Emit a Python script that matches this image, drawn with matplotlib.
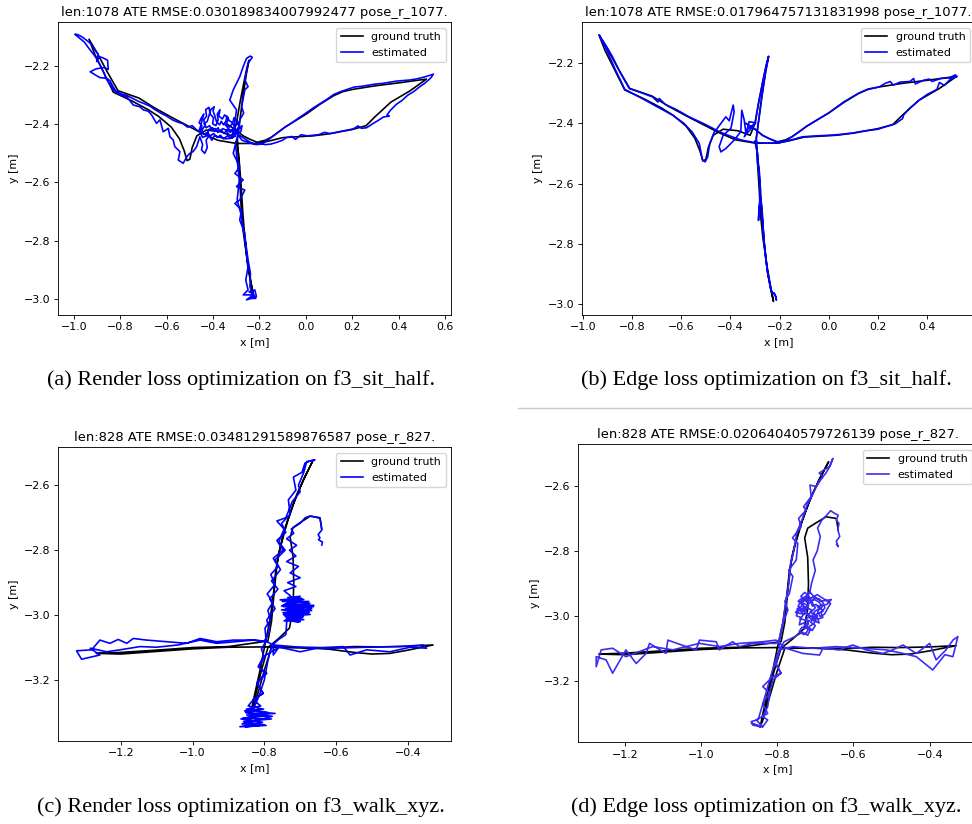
import numpy as np
import matplotlib
matplotlib.use('Agg')
import matplotlib.pyplot as plt
from matplotlib.lines import Line2D

# ground truth, f3_sit_half (same for a and b)
gt_sit = [
    (-0.337, -2.401), (-0.300, -2.420), (-0.270, -2.440), (-0.240, -2.452), (-0.210, -2.462),
    (-0.175, -2.455), (-0.150, -2.445), (-0.120, -2.428), (-0.090, -2.410), (-0.045, -2.388),
    (0.000, -2.366), (0.060, -2.332), (0.120, -2.302), (0.160, -2.288), (0.205, -2.280),
    (0.300, -2.268), (0.400, -2.258), (0.520, -2.245),
    (0.450, -2.285), (0.367, -2.324), (0.300, -2.373), (0.260, -2.405), (0.200, -2.418),
    (0.100, -2.433), (0.030, -2.440), (-0.100, -2.446), (-0.160, -2.458), (-0.210, -2.466),
    (-0.300, -2.466), (-0.380, -2.455), (-0.450, -2.430), (-0.570, -2.380), (-0.650, -2.345),
    (-0.720, -2.310), (-0.810, -2.285),
    (-0.860, -2.215), (-0.900, -2.155), (-0.935, -2.108),
    (-0.910, -2.160), (-0.870, -2.225), (-0.830, -2.290),
    (-0.750, -2.320), (-0.680, -2.350), (-0.635, -2.373), (-0.580, -2.410), (-0.545, -2.450),
    (-0.525, -2.490), (-0.512, -2.525), (-0.500, -2.520), (-0.490, -2.480), (-0.470, -2.440),
    (-0.430, -2.420), (-0.370, -2.425), (-0.320, -2.440),
    (-0.300, -2.400), (-0.285, -2.330), (-0.268, -2.260), (-0.255, -2.210), (-0.245, -2.180),
    (-0.257, -2.230), (-0.272, -2.310), (-0.285, -2.390), (-0.295, -2.450),
    (-0.290, -2.530), (-0.283, -2.620), (-0.278, -2.700), (-0.268, -2.780), (-0.252, -2.870),
    (-0.237, -2.940), (-0.225, -2.990),
    (-0.235, -2.955), (-0.250, -2.890), (-0.262, -2.800), (-0.272, -2.700), (-0.280, -2.600),
    (-0.290, -2.500), (-0.300, -2.460),
]

# (a) render loss estimate
est_render_sit = [
    (-0.352, -2.398), (-0.330, -2.418), (-0.305, -2.428), (-0.282, -2.440), (-0.262, -2.450),
    (-0.240, -2.462), (-0.215, -2.470), (-0.190, -2.468), (-0.165, -2.455), (-0.140, -2.440),
    (-0.115, -2.425), (-0.090, -2.410), (-0.060, -2.395), (-0.030, -2.378), (0.000, -2.362),
    (0.030, -2.345), (0.060, -2.330), (0.090, -2.315), (0.120, -2.298), (0.150, -2.288),
    (0.180, -2.280), (0.210, -2.272), (0.240, -2.270), (0.270, -2.266), (0.300, -2.262),
    (0.330, -2.260), (0.360, -2.256), (0.390, -2.252), (0.420, -2.250), (0.450, -2.248),
    (0.480, -2.244), (0.510, -2.238), (0.535, -2.232), (0.550, -2.228),
    (0.540, -2.240), (0.515, -2.258), (0.490, -2.272), (0.465, -2.288), (0.440, -2.300),
    (0.415, -2.318), (0.390, -2.332), (0.365, -2.352), (0.350, -2.368), (0.360, -2.372),
    (0.335, -2.375), (0.310, -2.388), (0.285, -2.400), (0.262, -2.412), (0.240, -2.414),
    (0.225, -2.406), (0.205, -2.416), (0.180, -2.420), (0.155, -2.424), (0.130, -2.428),
    (0.105, -2.432), (0.080, -2.428), (0.055, -2.436), (0.030, -2.438), (0.005, -2.440),
    (-0.020, -2.436), (-0.045, -2.452), (-0.060, -2.442), (-0.085, -2.446), (-0.100, -2.455),
    (-0.125, -2.462), (-0.150, -2.468), (-0.175, -2.470), (-0.200, -2.465), (-0.225, -2.468),
    (-0.250, -2.462),
    # centre blob
    (-0.275, -2.455), (-0.290, -2.440), (-0.300, -2.420), (-0.285, -2.405), (-0.295, -2.390),
    (-0.310, -2.378), (-0.315, -2.395), (-0.330, -2.388), (-0.340, -2.372), (-0.345, -2.390),
    (-0.355, -2.402), (-0.365, -2.390), (-0.372, -2.402), (-0.385, -2.392), (-0.392, -2.372),
    (-0.400, -2.355), (-0.395, -2.340), (-0.410, -2.350), (-0.418, -2.372), (-0.425, -2.390),
    (-0.438, -2.398), (-0.430, -2.412), (-0.415, -2.405), (-0.405, -2.420), (-0.390, -2.415),
    (-0.380, -2.428), (-0.365, -2.420), (-0.352, -2.432), (-0.340, -2.418), (-0.325, -2.428),
    (-0.312, -2.412), (-0.300, -2.425), (-0.305, -2.440), (-0.322, -2.448), (-0.338, -2.440),
    (-0.355, -2.450), (-0.368, -2.438), (-0.382, -2.445), (-0.398, -2.432), (-0.412, -2.440),
    (-0.425, -2.428), (-0.440, -2.435), (-0.448, -2.420),
    (-0.435, -2.405), (-0.440, -2.385), (-0.428, -2.372), (-0.432, -2.350), (-0.418, -2.342),
    (-0.412, -2.365), (-0.398, -2.378), (-0.402, -2.398), (-0.388, -2.405), (-0.378, -2.385),
    (-0.382, -2.365), (-0.370, -2.350), (-0.375, -2.372), (-0.360, -2.382), (-0.350, -2.368),
    (-0.335, -2.380), (-0.342, -2.400), (-0.328, -2.410), (-0.318, -2.398), (-0.305, -2.405),
    (-0.292, -2.398), (-0.285, -2.415), (-0.275, -2.405), (-0.280, -2.425), (-0.295, -2.432),
    (-0.310, -2.428), (-0.318, -2.442), (-0.332, -2.436), (-0.345, -2.420), (-0.358, -2.415),
    (-0.372, -2.425), (-0.378, -2.412), (-0.392, -2.425), (-0.402, -2.412), (-0.418, -2.418),
    (-0.428, -2.440), (-0.445, -2.445), (-0.455, -2.430), (-0.448, -2.405), (-0.460, -2.395),
    (-0.452, -2.380), (-0.440, -2.365), (-0.455, -2.410), (-0.462, -2.425),
    (-0.470, -2.420), (-0.490, -2.405), (-0.510, -2.410), (-0.530, -2.398), (-0.555, -2.392),
    (-0.575, -2.385), (-0.600, -2.372), (-0.625, -2.362), (-0.650, -2.350), (-0.672, -2.338),
    (-0.695, -2.330), (-0.720, -2.322), (-0.745, -2.312), (-0.770, -2.302), (-0.795, -2.296),
    (-0.820, -2.285),
    # left arm up to the tip and back
    (-0.832, -2.270), (-0.845, -2.250), (-0.860, -2.242), (-0.888, -2.240), (-0.930, -2.220),
    (-0.905, -2.210), (-0.870, -2.205), (-0.852, -2.212), (-0.855, -2.180), (-0.875, -2.172),
    (-0.890, -2.168), (-0.902, -2.185), (-0.895, -2.160), (-0.910, -2.145), (-0.925, -2.125),
    (-0.945, -2.112), (-0.965, -2.100), (-0.985, -2.092), (-0.996, -2.091),
    (-0.975, -2.105), (-0.955, -2.118), (-0.935, -2.140), (-0.915, -2.160), (-0.900, -2.178),
    (-0.885, -2.200), (-0.870, -2.225), (-0.860, -2.245), (-0.845, -2.262), (-0.830, -2.282),
    (-0.800, -2.300), (-0.773, -2.305),
    # lower left zigzag and dip
    (-0.744, -2.334), (-0.716, -2.340), (-0.700, -2.351), (-0.680, -2.355), (-0.665, -2.368),
    (-0.644, -2.397), (-0.629, -2.385), (-0.615, -2.426), (-0.593, -2.414), (-0.586, -2.443),
    (-0.572, -2.454), (-0.565, -2.477), (-0.543, -2.494), (-0.550, -2.523), (-0.529, -2.534),
    (-0.512, -2.510), (-0.500, -2.500), (-0.486, -2.494), (-0.471, -2.477), (-0.457, -2.443),
    (-0.445, -2.470), (-0.450, -2.488), (-0.436, -2.500), (-0.425, -2.480), (-0.430, -2.455),
    (-0.418, -2.440), (-0.405, -2.455), (-0.395, -2.440), (-0.370, -2.445), (-0.345, -2.450),
    (-0.320, -2.448), (-0.305, -2.440),
    # spike
    (-0.313, -2.431), (-0.299, -2.351), (-0.328, -2.317), (-0.313, -2.282), (-0.285, -2.237),
    (-0.270, -2.202), (-0.256, -2.174), (-0.240, -2.166), (-0.231, -2.170), (-0.249, -2.191),
    (-0.256, -2.220), (-0.263, -2.248), (-0.249, -2.271), (-0.263, -2.282), (-0.277, -2.340),
    (-0.268, -2.362), (-0.285, -2.385), (-0.292, -2.431),
    # vertical branch
    (-0.313, -2.500), (-0.285, -2.546), (-0.306, -2.569), (-0.270, -2.591), (-0.299, -2.614),
    (-0.263, -2.626), (-0.285, -2.660), (-0.306, -2.672), (-0.277, -2.694), (-0.285, -2.729),
    (-0.263, -2.775), (-0.256, -2.843), (-0.249, -2.889), (-0.259, -2.935), (-0.249, -2.969),
    (-0.270, -2.986), (-0.227, -2.986), (-0.256, -3.003), (-0.213, -2.992), (-0.220, -2.969),
    (-0.245, -2.975), (-0.225, -2.984), (-0.238, -2.998), (-0.216, -2.998), (-0.232, -2.978),
    (-0.241, -2.958), (-0.239, -2.912), (-0.249, -2.866), (-0.259, -2.809), (-0.270, -2.763),
    (-0.277, -2.717), (-0.296, -2.660), (-0.287, -2.591), (-0.296, -2.523), (-0.302, -2.477),
]

# (b) edge loss estimate
est_edge_sit = [
    (-0.337, -2.401), (-0.300, -2.420), (-0.270, -2.440), (-0.240, -2.452), (-0.215, -2.460),
    (-0.200, -2.464), (-0.175, -2.458), (-0.150, -2.445), (-0.120, -2.428), (-0.090, -2.410),
    (-0.045, -2.388), (0.000, -2.366), (0.060, -2.330), (0.123, -2.300), (0.160, -2.287),
    (0.205, -2.280), (0.230, -2.268), (0.250, -2.262), (0.262, -2.274), (0.290, -2.264),
    (0.330, -2.262), (0.345, -2.252), (0.352, -2.270), (0.385, -2.258), (0.410, -2.254),
    (0.420, -2.262), (0.455, -2.252), (0.490, -2.250), (0.515, -2.240), (0.522, -2.246),
    (0.500, -2.250), (0.470, -2.275), (0.450, -2.265), (0.440, -2.288), (0.400, -2.305),
    (0.367, -2.324), (0.330, -2.350), (0.305, -2.372), (0.300, -2.385), (0.270, -2.402),
    (0.230, -2.412), (0.200, -2.420), (0.150, -2.425), (0.100, -2.432), (0.050, -2.437),
    (0.000, -2.440), (-0.050, -2.442), (-0.107, -2.445), (-0.150, -2.455), (-0.185, -2.462),
    (-0.210, -2.466),
    (-0.260, -2.466), (-0.310, -2.463), (-0.360, -2.455), (-0.410, -2.440), (-0.446, -2.428),
    (-0.500, -2.405), (-0.568, -2.379), (-0.620, -2.355), (-0.665, -2.338), (-0.690, -2.318),
    (-0.695, -2.330), (-0.717, -2.313), (-0.760, -2.300), (-0.812, -2.285),
    (-0.850, -2.230), (-0.880, -2.180), (-0.905, -2.145), (-0.934, -2.108), (-0.930, -2.115),
    (-0.905, -2.155), (-0.870, -2.220), (-0.830, -2.288),
    (-0.760, -2.318), (-0.700, -2.345), (-0.636, -2.373), (-0.590, -2.400), (-0.555, -2.430),
    (-0.527, -2.467), (-0.514, -2.522), (-0.503, -2.528), (-0.493, -2.512), (-0.484, -2.467),
    (-0.466, -2.429),
    (-0.459, -2.423), (-0.419, -2.379), (-0.405, -2.392), (-0.389, -2.340), (-0.385, -2.362),
    (-0.398, -2.417), (-0.430, -2.440), (-0.446, -2.478), (-0.439, -2.495), (-0.419, -2.484),
    (-0.385, -2.456), (-0.358, -2.428), (-0.354, -2.357), (-0.344, -2.390), (-0.337, -2.434),
    (-0.324, -2.395), (-0.297, -2.399), (-0.344, -2.445), (-0.330, -2.420),
    (-0.300, -2.400), (-0.285, -2.330), (-0.268, -2.260), (-0.255, -2.210), (-0.245, -2.178),
    (-0.257, -2.230), (-0.272, -2.310), (-0.285, -2.390), (-0.295, -2.450),
    (-0.290, -2.530), (-0.283, -2.555), (-0.278, -2.620), (-0.283, -2.680), (-0.286, -2.722),
    (-0.284, -2.680), (-0.276, -2.650), (-0.270, -2.700), (-0.265, -2.780), (-0.256, -2.853),
    (-0.245, -2.910), (-0.235, -2.950), (-0.229, -2.964), (-0.222, -2.962), (-0.215, -2.975),
    (-0.213, -2.986), (-0.218, -2.970), (-0.235, -2.955), (-0.250, -2.890), (-0.262, -2.800),
    (-0.272, -2.700), (-0.278, -2.640), (-0.285, -2.560), (-0.290, -2.500), (-0.300, -2.460),
]

# ground truth, f3_walk_xyz (same for c and d)
gt_walk = [
    (-0.845, -3.343), (-0.830, -3.260), (-0.812, -3.170), (-0.798, -3.090), (-0.785, -3.020),
    (-0.775, -2.940), (-0.768, -2.860), (-0.755, -2.790), (-0.735, -2.710), (-0.710, -2.630),
    (-0.685, -2.570), (-0.665, -2.525),
    (-0.690, -2.580), (-0.720, -2.660), (-0.745, -2.740), (-0.762, -2.820), (-0.772, -2.920),
    (-0.780, -3.020), (-0.790, -3.080),
    (-0.900, -3.097), (-1.000, -3.100), (-1.100, -3.108), (-1.200, -3.115), (-1.268, -3.118),
    (-1.200, -3.120), (-1.100, -3.112), (-1.000, -3.104), (-0.900, -3.099), (-0.800, -3.098),
    (-0.700, -3.100), (-0.600, -3.100), (-0.550, -3.097), (-0.480, -3.098), (-0.400, -3.096),
    (-0.330, -3.092),
    (-0.400, -3.108), (-0.450, -3.118), (-0.500, -3.120), (-0.550, -3.115), (-0.620, -3.105),
    (-0.700, -3.100), (-0.780, -3.100),
    (-0.800, -3.170), (-0.820, -3.250), (-0.840, -3.330),
    (-0.825, -3.250), (-0.808, -3.170), (-0.790, -3.100), (-0.760, -3.072), (-0.730, -3.040),
    (-0.720, -2.980), (-0.718, -2.900), (-0.720, -2.820), (-0.728, -2.760), (-0.720, -2.730),
    (-0.700, -2.715), (-0.672, -2.695), (-0.645, -2.700), (-0.640, -2.735),
]

# (c) render loss estimate
est_render_walk = [
    (-0.852, -3.345), (-0.800, -3.338), (-0.858, -3.328), (-0.780, -3.320), (-0.860, -3.318),
    (-0.790, -3.310), (-0.849, -3.308), (-0.770, -3.303), (-0.855, -3.295), (-0.802, -3.290),
    (-0.845, -3.280), (-0.830, -3.260), (-0.803, -3.241), (-0.821, -3.210), (-0.798, -3.179),
    (-0.816, -3.159), (-0.800, -3.130), (-0.808, -3.105), (-0.795, -3.080), (-0.798, -3.040),
    (-0.783, -3.015), (-0.790, -2.985), (-0.776, -2.960), (-0.792, -2.935), (-0.770, -2.905),
    (-0.782, -2.875), (-0.762, -2.850), (-0.775, -2.825), (-0.748, -2.800), (-0.765, -2.770),
    (-0.740, -2.745), (-0.752, -2.717), (-0.728, -2.690), (-0.733, -2.645), (-0.712, -2.615),
    (-0.719, -2.575), (-0.695, -2.560), (-0.687, -2.532), (-0.672, -2.525), (-0.659, -2.522),
    (-0.682, -2.527),
    (-0.690, -2.560), (-0.705, -2.600), (-0.700, -2.620), (-0.722, -2.650), (-0.740, -2.700),
    (-0.765, -2.710), (-0.745, -2.735), (-0.760, -2.775), (-0.742, -2.800), (-0.770, -2.830),
    (-0.755, -2.860), (-0.780, -2.895), (-0.762, -2.920), (-0.785, -2.950), (-0.770, -2.980),
    (-0.793, -3.015), (-0.785, -3.050), (-0.800, -3.080),
    (-0.830, -3.077), (-0.886, -3.077), (-0.933, -3.082), (-0.979, -3.072), (-1.016, -3.087),
    (-1.072, -3.082), (-1.128, -3.077), (-1.165, -3.072), (-1.183, -3.087), (-1.207, -3.075),
    (-1.230, -3.087), (-1.258, -3.077), (-1.281, -3.107), (-1.323, -3.110), (-1.309, -3.136),
    (-1.258, -3.123), (-1.285, -3.102), (-1.239, -3.113), (-1.202, -3.107), (-1.146, -3.097),
    (-1.100, -3.099), (-1.040, -3.092), (-0.979, -3.077), (-0.933, -3.087), (-0.880, -3.082),
    (-0.831, -3.077), (-0.793, -3.082),
    (-0.766, -3.097), (-0.700, -3.113), (-0.654, -3.102), (-0.580, -3.097), (-0.561, -3.123),
    (-0.515, -3.107), (-0.450, -3.113), (-0.394, -3.099), (-0.348, -3.102), (-0.357, -3.092),
    (-0.422, -3.097), (-0.515, -3.099), (-0.608, -3.102), (-0.700, -3.099), (-0.775, -3.092),
    (-0.775, -3.123), (-0.760, -3.100), (-0.803, -3.128), (-0.817, -3.159), (-0.793, -3.179),
    (-0.821, -3.210), (-0.803, -3.241), (-0.831, -3.261), (-0.810, -3.280), (-0.850, -3.290),
    (-0.790, -3.300), (-0.865, -3.320), (-0.805, -3.330), (-0.868, -3.344), (-0.795, -3.340),
    (-0.862, -3.335), (-0.778, -3.312), (-0.852, -3.300),
    (-0.835, -3.300), (-0.815, -3.250), (-0.800, -3.200), (-0.790, -3.140), (-0.780, -3.095),
    (-0.760, -3.075), (-0.740, -3.060),
    # cluster near (-0.71, -2.98)
    (-0.737, -3.010), (-0.700, -3.020), (-0.738, -3.010), (-0.691, -3.005), (-0.747, -2.997),
    (-0.677, -2.989), (-0.752, -2.984), (-0.663, -2.974), (-0.747, -2.974), (-0.673, -2.964),
    (-0.756, -2.953), (-0.696, -2.948), (-0.728, -2.964), (-0.668, -2.980), (-0.735, -2.990),
    (-0.685, -2.995),
    (-0.745, -3.018), (-0.690, -3.014), (-0.742, -3.005), (-0.672, -2.998), (-0.748, -2.992),
    (-0.668, -2.986), (-0.740, -2.980), (-0.662, -2.970), (-0.744, -2.968), (-0.676, -2.958),
    (-0.750, -2.958), (-0.690, -2.952), (-0.735, -2.946), (-0.700, -2.942), (-0.752, -2.972),
    (-0.680, -2.975), (-0.738, -2.985), (-0.675, -2.992), (-0.745, -3.000), (-0.695, -3.008),
    (-0.740, -3.015), (-0.705, -3.022),
    # up the right line to the hook
    (-0.728, -2.940), (-0.745, -2.925), (-0.712, -2.912), (-0.735, -2.900), (-0.700, -2.885),
    (-0.728, -2.870), (-0.705, -2.850), (-0.738, -2.835), (-0.712, -2.818), (-0.730, -2.800),
    (-0.710, -2.785), (-0.738, -2.765), (-0.718, -2.748), (-0.725, -2.735), (-0.700, -2.717),
    (-0.686, -2.700), (-0.673, -2.695), (-0.658, -2.698), (-0.645, -2.702), (-0.642, -2.720),
    (-0.640, -2.738), (-0.650, -2.752), (-0.645, -2.762), (-0.649, -2.768), (-0.638, -2.775),
    (-0.640, -2.784),
]

# (d) edge loss estimate
est_edge_walk = [
    (-0.846, -3.342), (-0.868, -3.331), (-0.838, -3.342), (-0.855, -3.321), (-0.825, -3.301),
    (-0.838, -3.270), (-0.820, -3.239), (-0.838, -3.218), (-0.812, -3.188), (-0.790, -3.177),
    (-0.805, -3.150), (-0.794, -3.105), (-0.794, -3.075), (-0.785, -3.023), (-0.772, -2.982),
    (-0.780, -2.955), (-0.768, -2.931), (-0.759, -2.879), (-0.770, -2.860), (-0.750, -2.828),
    (-0.746, -2.777), (-0.760, -2.760), (-0.737, -2.725), (-0.744, -2.700), (-0.724, -2.674),
    (-0.731, -2.664), (-0.711, -2.633), (-0.714, -2.597), (-0.698, -2.602), (-0.680, -2.571),
    (-0.690, -2.560), (-0.663, -2.540), (-0.654, -2.515),
    (-0.660, -2.535), (-0.672, -2.560), (-0.690, -2.585), (-0.705, -2.620), (-0.722, -2.660),
    (-0.735, -2.705), (-0.748, -2.740), (-0.755, -2.790), (-0.765, -2.840), (-0.770, -2.900),
    (-0.778, -2.960), (-0.785, -3.020), (-0.795, -3.075),
    (-0.803, -3.085), (-0.864, -3.085), (-0.899, -3.095), (-0.917, -3.080), (-0.952, -3.105),
    (-0.960, -3.080), (-1.004, -3.075), (-1.013, -3.105), (-1.039, -3.095), (-1.087, -3.075),
    (-1.092, -3.116), (-1.135, -3.085), (-1.144, -3.116), (-1.170, -3.147), (-1.197, -3.105),
    (-1.232, -3.177), (-1.249, -3.136), (-1.275, -3.126), (-1.275, -3.157), (-1.262, -3.105),
    (-1.232, -3.100), (-1.197, -3.126), (-1.127, -3.095), (-1.074, -3.105), (-1.004, -3.085),
    (-0.952, -3.095), (-0.899, -3.085), (-0.838, -3.080), (-0.803, -3.075),
    (-0.777, -3.100), (-0.733, -3.116), (-0.689, -3.121), (-0.680, -3.100), (-0.637, -3.105),
    (-0.602, -3.090), (-0.567, -3.105), (-0.523, -3.116), (-0.497, -3.105), (-0.470, -3.090),
    (-0.435, -3.116), (-0.400, -3.085), (-0.383, -3.136), (-0.357, -3.105), (-0.339, -3.075),
    (-0.326, -3.064), (-0.339, -3.126), (-0.360, -3.120), (-0.392, -3.167), (-0.435, -3.126),
    (-0.470, -3.116), (-0.514, -3.105), (-0.575, -3.100), (-0.645, -3.095), (-0.707, -3.100),
    (-0.759, -3.095), (-0.794, -3.105),
    (-0.803, -3.147), (-0.790, -3.177), (-0.812, -3.198), (-0.820, -3.239), (-0.825, -3.280),
    (-0.838, -3.311), (-0.825, -3.321), (-0.838, -3.342), (-0.864, -3.337), (-0.868, -3.326),
    (-0.850, -3.320),
    (-0.835, -3.260), (-0.818, -3.190), (-0.800, -3.120), (-0.782, -3.080), (-0.760, -3.068),
    (-0.740, -3.055),
    # cluster near (-0.72, -2.99)
    (-0.735, -3.050), (-0.720, -3.060), (-0.712, -3.040), (-0.728, -3.030), (-0.715, -3.015),
    (-0.740, -3.010), (-0.730, -2.995), (-0.752, -2.990), (-0.742, -2.975), (-0.725, -2.985),
    (-0.718, -2.968), (-0.735, -2.960), (-0.722, -2.945), (-0.708, -2.960), (-0.700, -2.975),
    (-0.712, -2.990), (-0.695, -3.000), (-0.705, -3.015), (-0.690, -3.022), (-0.698, -2.995),
    (-0.680, -2.985), (-0.692, -2.970), (-0.670, -2.965), (-0.658, -2.950), (-0.685, -2.955),
    (-0.705, -2.940), (-0.715, -2.925), (-0.725, -2.940), (-0.740, -2.950),
    (-0.745, -2.955), (-0.732, -2.968), (-0.748, -2.978), (-0.735, -2.988), (-0.722, -2.975),
    (-0.710, -2.982), (-0.718, -2.998), (-0.705, -3.005), (-0.712, -3.020), (-0.700, -3.030),
    (-0.708, -3.045), (-0.722, -3.040), (-0.730, -3.022), (-0.742, -3.028), (-0.738, -3.005),
    (-0.750, -3.000), (-0.745, -2.985), (-0.728, -2.978), (-0.715, -2.960), (-0.702, -2.950),
    (-0.690, -2.958), (-0.682, -2.972), (-0.694, -2.985), (-0.688, -3.002), (-0.676, -2.995),
    (-0.668, -2.978), (-0.660, -2.962), (-0.672, -2.952), (-0.695, -2.935), (-0.710, -2.945),
    (-0.726, -2.952), (-0.738, -2.940), (-0.728, -2.928),
    (-0.720, -2.935), (-0.712, -2.948), (-0.722, -2.958), (-0.730, -2.950), (-0.738, -2.962),
    (-0.728, -2.972), (-0.740, -2.982), (-0.732, -2.995), (-0.722, -2.990), (-0.715, -3.002),
    (-0.725, -3.010), (-0.718, -3.025), (-0.728, -3.040), (-0.735, -3.035), (-0.742, -3.048),
    (-0.730, -3.058), (-0.722, -3.050), (-0.715, -3.032), (-0.705, -3.025), (-0.698, -3.012),
    (-0.708, -2.998), (-0.700, -2.985), (-0.690, -2.978), (-0.698, -2.965), (-0.708, -2.970),
    (-0.712, -2.955), (-0.700, -2.945), (-0.690, -2.948), (-0.680, -2.960), (-0.675, -2.975),
    (-0.685, -2.992), (-0.680, -3.005), (-0.692, -3.010), (-0.700, -3.000), (-0.712, -3.010),
    (-0.720, -2.998), (-0.732, -2.985), (-0.745, -2.970), (-0.738, -2.955), (-0.725, -2.945),
    # up to the hook
    (-0.715, -2.930), (-0.710, -2.900), (-0.700, -2.860), (-0.706, -2.828), (-0.695, -2.800),
    (-0.687, -2.756), (-0.694, -2.730), (-0.683, -2.705), (-0.670, -2.690), (-0.660, -2.676),
    (-0.650, -2.684), (-0.640, -2.690), (-0.645, -2.705), (-0.638, -2.715), (-0.641, -2.735),
    (-0.636, -2.756), (-0.645, -2.770), (-0.640, -2.787), (-0.644, -2.780),
]

titles = [
    'len:1078 ATE RMSE:0.030189834007992477 pose_r_1077.',
    'len:1078 ATE RMSE:0.017964757131831998 pose_r_1077.',
    'len:828 ATE RMSE:0.03481291589876587 pose_r_827.',
    'len:828 ATE RMSE:0.02064040579726139 pose_r_827.',
]
captions = [
    '(a) Render loss optimization on f3_sit_half.',
    '(b) Edge loss optimization on f3_sit_half.',
    '(c) Render loss optimization on f3_walk_xyz.',
    '(d) Edge loss optimization on f3_walk_xyz.',
]

W, H = 972, 824
s = 0.79  # the panels were scaled down from default matplotlib size
plt.rcParams.update({
    'font.size': 10 * s,
    'axes.titlesize': 12 * s,
    'axes.linewidth': 0.8 * s,
    'xtick.major.size': 3.5 * s, 'ytick.major.size': 3.5 * s,
    'xtick.major.width': 0.8 * s, 'ytick.major.width': 0.8 * s,
    'xtick.major.pad': 3.5 * s, 'ytick.major.pad': 3.5 * s,
    'axes.titlepad': 6 * s, 'axes.labelpad': 4 * s,
    'legend.fontsize': 10 * s,
})

fig = plt.figure(figsize=(W / 100, H / 100), dpi=100)

def box(left, top, w, h):
    return [left / W, 1 - (top + h) / H, w / W, h / H]

# pixel boxes of the four axes
boxes = [box(57.7, 22.3, 393.3, 292.4), box(582, 22.3, 393.3, 292.4),
         box(57.7, 447.3, 393.3, 293.4), box(578.3, 444.3, 399, 297.7)]
xlims = [(-1.070, 0.626), (-1.004, 0.596), (-1.3755, -0.280), (-1.322, -0.275)]
ylims = [(-3.054, -2.050), (-3.034, -2.066), (-3.387, -2.483), (-3.389, -2.4715)]
gts = [gt_sit, gt_sit, gt_walk, gt_walk]
ests = [est_render_sit, est_edge_sit, est_render_walk, est_edge_walk]
est_colors = ['blue', 'blue', 'blue', '#3a2cf2']

for i in range(4):
    ax = fig.add_axes(boxes[i])
    g = np.array(gts[i])
    e = np.array(ests[i])
    ax.plot(g[:, 0], g[:, 1], color='black', lw=1.5 * s, label='ground truth')
    ax.plot(e[:, 0], e[:, 1], color=est_colors[i], lw=1.5 * s, label='estimated')
    ax.set_xlim(*xlims[i])
    ax.set_ylim(*ylims[i])
    ax.set_xlabel('x [m]')
    ax.set_ylabel('y [m]')
    ax.set_title(titles[i])
    ax.legend(loc='upper right')

# subfigure captions (baseline positions in pixels)
cap_pos = [(47, 385), (581, 385), (37, 812), (571, 812)]
for (cx, cy), txt in zip(cap_pos, captions):
    fig.text(cx / W, 1 - cy / H, txt, ha='left', va='baseline',
             family='Liberation Serif', fontsize=16)

# thin rule between the right-hand panels
fig.add_artist(Line2D([518 / W, 1.0], [1 - 408 / H, 1 - 408 / H], color='#c8c8c8', lw=1))

fig.savefig('out.png', dpi=100)
